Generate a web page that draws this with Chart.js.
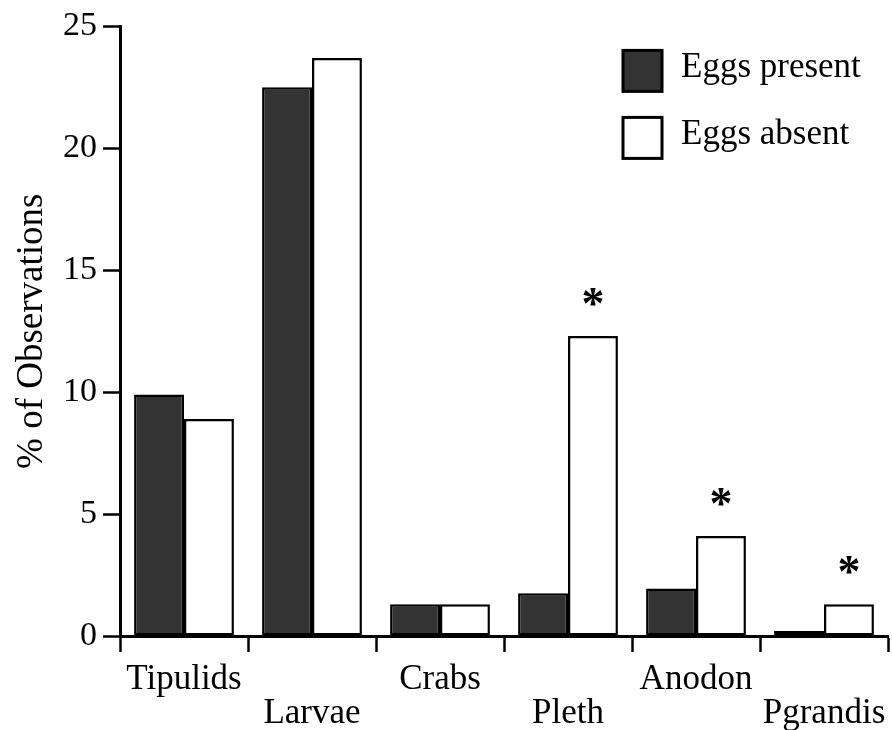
<!DOCTYPE html>
<html>
<head>
<meta charset="utf-8">
<script src="https://cdn.jsdelivr.net/npm/chart.js@4.4.0/dist/chart.umd.min.js"></script>
<style>
  html, body { margin: 0; padding: 0; background: #fff; }
  #wrap { width: 892px; height: 730px; }
</style>
</head>
<body>
<div id="wrap"><canvas id="chart" width="892" height="730"></canvas></div>
<script>
// data
const categories = ['Tipulids', 'Larvae', 'Crabs', 'Pleth', 'Anodon', 'Pgrandis'];
const eggsPresent = [9.9, 22.5, 1.3, 1.75, 1.95, 0.2];
const eggsAbsent = [8.9, 23.7, 1.3, 12.3, 4.1, 1.3];
const significant = [false, false, false, true, true, true];
const yTicks = [0, 5, 10, 15, 20, 25];

const FONT = "'Liberation Serif', 'Times New Roman', serif";

// asterisks above the "eggs absent" bars
const starPlugin = {
  id: 'stars',
  afterDatasetsDraw(chart) {
    const ctx = chart.ctx;
    const meta = chart.getDatasetMeta(1);
    ctx.save();
    ctx.fillStyle = '#000';
    ctx.font = 'bold 46px ' + FONT;
    ctx.textAlign = 'center';
    ctx.textBaseline = 'alphabetic';
    significant.forEach((s, i) => {
      if (!s) return;
      const bar = meta.data[i];
      ctx.fillText('*', bar.x, bar.y - 17);
    });
    ctx.restore();
  }
};

// legend inside the plot, top right
const legendPlugin = {
  id: 'boxLegend',
  afterDraw(chart) {
    const ctx = chart.ctx;
    const area = chart.chartArea;
    ctx.save();
    ctx.font = '35px ' + FONT;
    ctx.textBaseline = 'middle';
    ctx.textAlign = 'left';
    chart.data.datasets.forEach((ds, i) => {
      const bx = area.right - 265;
      const by = area.top + 24 + i * 67;
      ctx.fillStyle = ds.backgroundColor;
      ctx.fillRect(bx, by, 39, 41);
      ctx.lineWidth = 3;
      ctx.strokeStyle = '#000';
      ctx.strokeRect(bx, by, 39, 41);
      ctx.fillStyle = '#000';
      ctx.fillText(ds.label, bx + 58, by + 17);
    });
    ctx.restore();
  }
};

new Chart(document.getElementById('chart'), {
  type: 'bar',
  data: {
    labels: categories,
    datasets: [{
      label: 'Eggs present',
      data: eggsPresent,
      backgroundColor: '#333333',
      borderColor: '#000',
      borderWidth: 2.5,
      borderSkipped: false
    }, {
      label: 'Eggs absent',
      data: eggsAbsent,
      backgroundColor: '#ffffff',
      borderColor: '#000',
      borderWidth: 2.5,
      borderSkipped: false
    }]
  },
  options: {
    responsive: false,
    animation: false,
    layout: { padding: { top: 24, right: 4, left: 4, bottom: 0 } },
    plugins: {
      legend: { display: false },
      tooltip: { enabled: false }
    },
    datasets: {
      bar: { categoryPercentage: 0.78, barPercentage: 1 }
    },
    scales: {
      x: {
        grid: {
          offset: true,
          drawOnChartArea: false,
          drawTicks: true,
          tickLength: 16,
          tickWidth: 2.5,
          color: '#000'
        },
        border: { color: '#000', width: 3 },
        ticks: {
          color: '#000',
          font: { family: FONT, size: 35, lineHeight: 0.97 },
          padding: 11,
          maxRotation: 0,
          autoSkip: false,
          callback: (v, i) => i % 2 ? ['', categories[i]] : categories[i]
        },
        afterFit: s => {
          s.height = 94;
          s.paddingLeft = 0;
          s.paddingRight = 0;
        }
      },
      y: {
        min: 0,
        max: 25,
        afterBuildTicks: s => { s.ticks = yTicks.map(v => ({ value: v })); },
        grid: {
          drawOnChartArea: false,
          tickLength: 17,
          tickWidth: 2.5,
          color: '#000'
        },
        border: { color: '#000', width: 3 },
        ticks: {
          color: '#000',
          font: { family: FONT, size: 34 },
          padding: 6
        },
        title: {
          display: true,
          text: '% of Observations',
          color: '#000',
          font: { family: FONT, size: 37 },
          padding: { top: 6, bottom: 0 }
        },
        afterFit: s => { s.width = 116; }
      }
    }
  },
  plugins: [starPlugin, legendPlugin]
});
</script>
</body>
</html>
